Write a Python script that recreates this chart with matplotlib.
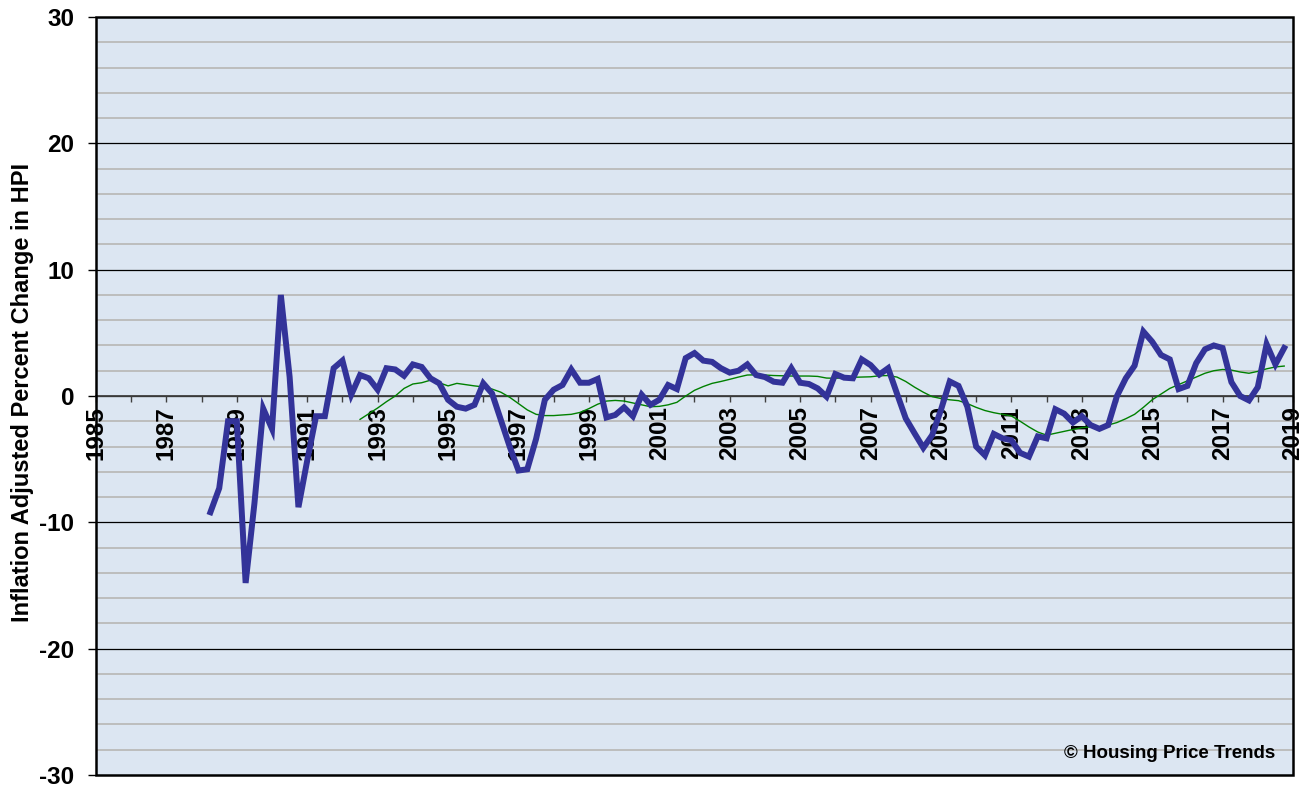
import numpy as np
import matplotlib
matplotlib.use("Agg")
import matplotlib.pyplot as plt
from matplotlib.ticker import FixedLocator
from matplotlib.patches import Rectangle

# quarterly inflation adjusted change in HPI (thick blue line)
hpi_start = 1988.25
hpi_change = [
    -9.2, -7.3, -2.0,
    -2.0, -14.8, -8.5, -1.0,   # 1989
    -2.6, 8.0, 1.5, -8.8,      # 1990
    -5.1, -1.6, -1.6, 2.2,     # 1991
    2.8, 0.1, 1.66, 1.4,       # 1992
    0.5, 2.2, 2.1, 1.6,        # 1993
    2.5, 2.3, 1.4, 1.0,        # 1994
    -0.3, -0.85, -1.0, -0.7,   # 1995
    1.0, 0.2, -1.9, -4.0,      # 1996
    -5.9, -5.8, -3.4, -0.3,    # 1997
    0.5, 0.87, 2.1, 1.05,      # 1998
    1.05, 1.35, -1.7, -1.5,    # 1999
    -0.9, -1.6, 0.1, -0.7,     # 2000
    -0.3, 0.87, 0.55, 3.0,     # 2001
    3.4, 2.8, 2.7, 2.2,        # 2002
    1.85, 2.0, 2.5, 1.66,      # 2003
    1.5, 1.13, 1.05, 2.2,      # 2004
    1.05, 0.95, 0.6, -0.05,    # 2005
    1.74, 1.45, 1.4, 2.9,      # 2006
    2.45, 1.7, 2.2, 0.2,       # 2007
    -1.77, -2.95, -4.1, -3.1,  # 2008
    -1.1, 1.15, 0.8, -0.85,    # 2009
    -4.0, -4.7, -3.0, -3.35,   # 2010
    -3.5, -4.5, -4.8, -3.2,    # 2011
    -3.35, -1.05, -1.4, -2.1,  # 2012
    -1.6, -2.3, -2.6, -2.3,    # 2013
    0.0, 1.4, 2.4, 5.1,        # 2014
    4.3, 3.25, 2.9, 0.55,      # 2015
    0.8, 2.6, 3.7, 4.0,        # 2016
    3.8, 1.1, 0.0, -0.35,      # 2017
    0.7, 4.1, 2.5, 3.8,        # 2018
]

# smoothed trend (thin green line)
trend_start = 1992.5
trend_change = [
    -1.85, -1.4,
    -0.95, -0.45, 0.0, 0.6,     # 1993
    0.95, 1.05, 1.25, 1.05,     # 1994
    0.8, 1.0, 0.9, 0.8,         # 1995
    0.72, 0.55, 0.3, -0.1,      # 1996
    -0.6, -1.1, -1.45, -1.55,   # 1997
    -1.55, -1.5, -1.45, -1.3,   # 1998
    -1.0, -0.65, -0.4, -0.35,   # 1999
    -0.4, -0.55, -0.7, -0.85,   # 2000
    -0.82, -0.7, -0.5, 0.0,     # 2001
    0.45, 0.75, 1.0, 1.15,      # 2002
    1.32, 1.5, 1.66, 1.68,      # 2003
    1.66, 1.62, 1.6, 1.58,      # 2004
    1.58, 1.58, 1.55, 1.42,     # 2005
    1.4, 1.45, 1.48, 1.5,       # 2006
    1.52, 1.6, 1.62, 1.5,       # 2007
    1.15, 0.7, 0.3, -0.05,      # 2008
    -0.2, -0.3, -0.37, -0.6,    # 2009
    -0.9, -1.15, -1.32, -1.45,  # 2010
    -1.58, -2.0, -2.45, -2.85,  # 2011
    -3.1, -2.95, -2.8, -2.65,   # 2012
    -2.5, -2.45, -2.45, -2.3,   # 2013
    -2.1, -1.8, -1.45, -0.9,    # 2014
    -0.3, 0.15, 0.6, 0.9,       # 2015
    1.2, 1.5, 1.8, 2.0,         # 2016
    2.1, 2.05, 1.9, 1.8,        # 2017
    1.95, 2.15, 2.3, 2.37,      # 2018
]

label_years = list(range(1985, 2020, 2))
minor_years = list(range(1986, 2019, 2))
y_major = [-30, -20, -10, 0, 10, 20, 30]

hpi_t = hpi_start + 0.25 * np.arange(len(hpi_change))
trend_t = trend_start + 0.25 * np.arange(len(trend_change))

plt.rcParams["font.family"] = ["Liberation Sans", "DejaVu Sans"]
plt.rcParams["font.weight"] = "bold"

fig = plt.figure(figsize=(13.1, 7.91), dpi=100)
ax = fig.add_axes([96 / 1310, 16 / 791, 1197 / 1310, 758 / 791])
ax.set_facecolor("#dce6f2")

ax.set_xlim(1985, 2019)
ax.set_ylim(-30, 30)

# horizontal grid: grey every 2, black every 10
for v in np.arange(-28, 30, 2):
    if v % 10 == 0:
        ax.axhline(v, color="black", lw=0.9, zorder=1)
    else:
        ax.axhline(v, color="#bdbdbd", lw=1.4, zorder=1)

ax.plot(trend_t, trend_change, color="#008000", lw=1.0, zorder=3)
ax.plot(hpi_t, hpi_change, color="#333399", lw=4.3, solid_joinstyle="miter", zorder=4)

# x axis sits on the zero line
ax.spines["bottom"].set_position(("data", 0))
ax.spines["bottom"].set_color("#404040")
ax.spines["bottom"].set_linewidth(1.3)
for side in ["top", "right", "left"]:
    ax.spines[side].set_visible(False)
ax.add_patch(Rectangle((0, 0), 1, 1, transform=ax.transAxes, fill=False,
                       edgecolor="black", lw=1.8, zorder=6, clip_on=False))

ax.xaxis.set_major_locator(FixedLocator(label_years))
ax.xaxis.set_minor_locator(FixedLocator(minor_years))
ax.set_xticklabels([str(y) for y in label_years], rotation=90, va="top")
ax.tick_params(axis="x", which="both", direction="out", length=4.5, width=1.0,
               color="#404040", labelsize=17.5, pad=3)

ax.set_yticks(y_major)
ax.set_yticklabels([str(v) for v in y_major])
ax.tick_params(axis="y", which="major", direction="out", length=5.5, width=1.0,
               labelsize=17.5, pad=10)

ax.set_ylabel("Inflation Adjusted Percent Change in HPI", fontsize=17, fontweight="bold")
ax.yaxis.set_label_coords(-0.0515, 0.505)

ax.text(0.985, 0.017, "\u00a9 Housing Price Trends", transform=ax.transAxes,
        ha="right", va="bottom", fontsize=13.5, fontweight="bold", zorder=7)

fig.savefig("out.png", dpi=100)
